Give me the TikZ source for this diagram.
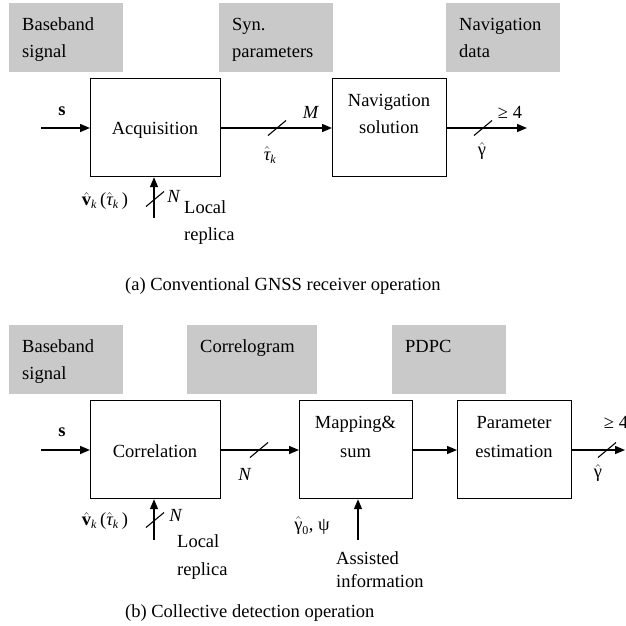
\RequirePackage{fix-cm}
\documentclass[tikz,border=0pt]{standalone}
\usepackage{fontspec}
\setmainfont{Liberation Serif}
\usetikzlibrary{arrows.meta,calc}
\definecolor{boxgray}{RGB}{201,201,202}
\newcommand\myk{_{\mbox{\fontsize{12}{12}\selectfont\itshape k}}}
\newcommand\myzero{_{\mbox{\fontsize{12}{12}\selectfont 0}}}
\newcommand\mytauhat{\hat{\mbox{\itshape τ}}}
\newcommand\myvhat{\hat{\mbox{\bfseries v}}}
\newcommand\mygamhat{\hat{\mbox{γ}}}
\begin{document}
\begin{tikzpicture}[x=1pt,y=-1pt,
  every node/.style={font=\fontsize{18.5}{27}\selectfont, inner sep=0pt},
  graybox/.style={fill=boxgray, draw=none, anchor=north west},
  blockbox/.style={draw=black, line width=1.2pt, anchor=north west},
  txt/.style={anchor=base west},
  ctxt/.style={anchor=base},
  conn/.style={line width=1.5pt, -{Triangle[length=10pt,width=8pt]}},
  slashmark/.style={line width=1.1pt}
]
\useasboundingbox (0,0) rectangle (626,625);
\clip (0,0) rectangle (626,625);

% ---------- (a) ----------
\node[graybox, minimum width=114pt, minimum height=69pt] (g1) at (9,3) {};
\node[graybox, minimum width=114pt, minimum height=69pt] (g2) at (219,3) {};
\node[graybox, minimum width=114pt, minimum height=69pt] (g3) at (446,3) {};
\node[txt] (g1a) at (22,30) {Baseband};
\node[txt] (g1b) at (22,57) {signal};
\node[txt] (g2a) at (232,30) {Syn.};
\node[txt] (g2b) at (232,57) {parameters};
\node[txt] (g3a) at (459,30) {Navigation};
\node[txt] (g3b) at (459,57) {data};

\node[blockbox, minimum width=130pt, minimum height=98pt] (acq) at (90,78) {};
\node[blockbox, minimum width=114pt, minimum height=98pt] (nav) at (332,78) {};
\node[ctxt] (acqt) at (155,134) {Acquisition};
\node[ctxt] (navt1) at (389,106) {Navigation};
\node[ctxt] (navt2) at (389,133) {solution};

\coordinate (sa) at (41,128);
\coordinate (ya) at (527,128);
\coordinate (ra) at (154,218);
\draw[conn] (sa) -- (sa -| acq.west);
\draw[conn] (acq.east |- sa) -- (nav.west |- sa);
\draw[conn] (nav.east |- sa) -- (ya);
\draw[conn] (ra) -- (ra |- acq.south);

\coordinate (s1) at (277,128);
\coordinate (s2) at (483,128);
\coordinate (s3) at (155,199);
\draw[slashmark] ($(s1)+(-9,7.5)$) -- ($(s1)+(9,-7.5)$);
\draw[slashmark] ($(s2)+(-9,7.5)$) -- ($(s2)+(9,-7.5)$);
\draw[slashmark] ($(s3)+(-9,7.5)$) -- ($(s3)+(9,-7.5)$);

\node (la1) at (62,111) {\textbf{s}};
\node (la2) at (311,112) {\textit{M}};
\node (la3) at (270,155) {$\mytauhat\myk$};
\node (la4) at (510,112) {≥ 4};
\node (la5) at (482,151) {$\mygamhat$};
\node (la6) at (174,196) {\textit{N}};
\node (la7) at (105,201) {$\myvhat\myk\,\mbox{(}\mytauhat\myk\,\mbox{)}$};
\node[txt] (la8) at (184,213) {Local};
\node[txt] (la9) at (184,240) {replica};
\node[txt] (capa) at (125,290) {(a) Conventional GNSS receiver operation};

% ---------- (b) ----------
\node[graybox, minimum width=114pt, minimum height=69pt] (h1) at (9,325) {};
\node[graybox, minimum width=130pt, minimum height=69pt] (h2) at (187,325) {};
\node[graybox, minimum width=114pt, minimum height=69pt] (h3) at (392,325) {};
\node[txt] (h1a) at (22,352) {Baseband};
\node[txt] (h1b) at (22,379) {signal};
\node[txt] (h2a) at (200,352) {Correlogram};
\node[txt] (h3a) at (405,352) {PDPC};

\node[blockbox, minimum width=130pt, minimum height=98pt] (cor) at (90,400) {};
\node[blockbox, minimum width=113pt, minimum height=98pt] (map) at (299,400) {};
\node[blockbox, minimum width=114pt, minimum height=98pt] (par) at (457,400) {};
\node[ctxt] (cort) at (155,457) {Correlation};
\node[ctxt] (mapt1) at (355.5,428) {Mapping\&};
\node[ctxt] (mapt2) at (355.5,457) {sum};
\node[ctxt] (part1) at (514,428) {Parameter};
\node[ctxt] (part2) at (514,457) {estimation};

\coordinate (sb) at (41,450);
\coordinate (yb) at (625,450);
\coordinate (rb) at (154,540);
\coordinate (ab) at (358,540);
\draw[conn] (sb) -- (sb -| cor.west);
\draw[conn] (cor.east |- sb) -- (map.west |- sb);
\draw[conn] (map.east |- sb) -- (par.west |- sb);
\draw[conn] (par.east |- sb) -- (yb);
\draw[conn] (rb) -- (rb |- cor.south);
\draw[conn] (ab) -- (ab |- map.south);

\coordinate (t1) at (259,450);
\coordinate (t2) at (607,450);
\coordinate (t3) at (155,520);
\draw[slashmark] ($(t1)+(-9,7.5)$) -- ($(t1)+(9,-7.5)$);
\draw[slashmark] ($(t2)+(-9,7.5)$) -- ($(t2)+(9,-7.5)$);
\draw[slashmark] ($(t3)+(-9,7.5)$) -- ($(t3)+(9,-7.5)$);

\node (lb1) at (62,432) {\textbf{s}};
\node (lb2) at (245,474) {\textit{N}};
\node (lb3) at (616,422) {≥ 4};
\node (lb4) at (598,473) {$\mygamhat$};
\node (lb5) at (176,515) {\textit{N}};
\node (lb6) at (105,521) {$\myvhat\myk\,\mbox{(}\mytauhat\myk\,\mbox{)}$};
\node[txt] (lb7) at (177,547) {Local};
\node[txt] (lb8) at (177,575) {replica};
\node (lb9) at (312,526) {$\mygamhat\myzero\mbox{, ψ}$};
\node[txt] (lb10) at (336,564) {Assisted};
\node[txt] (lb11) at (336,587) {information};
\node[txt] (capb) at (125,617) {(b) Collective detection operation};
\end{tikzpicture}
\end{document}
